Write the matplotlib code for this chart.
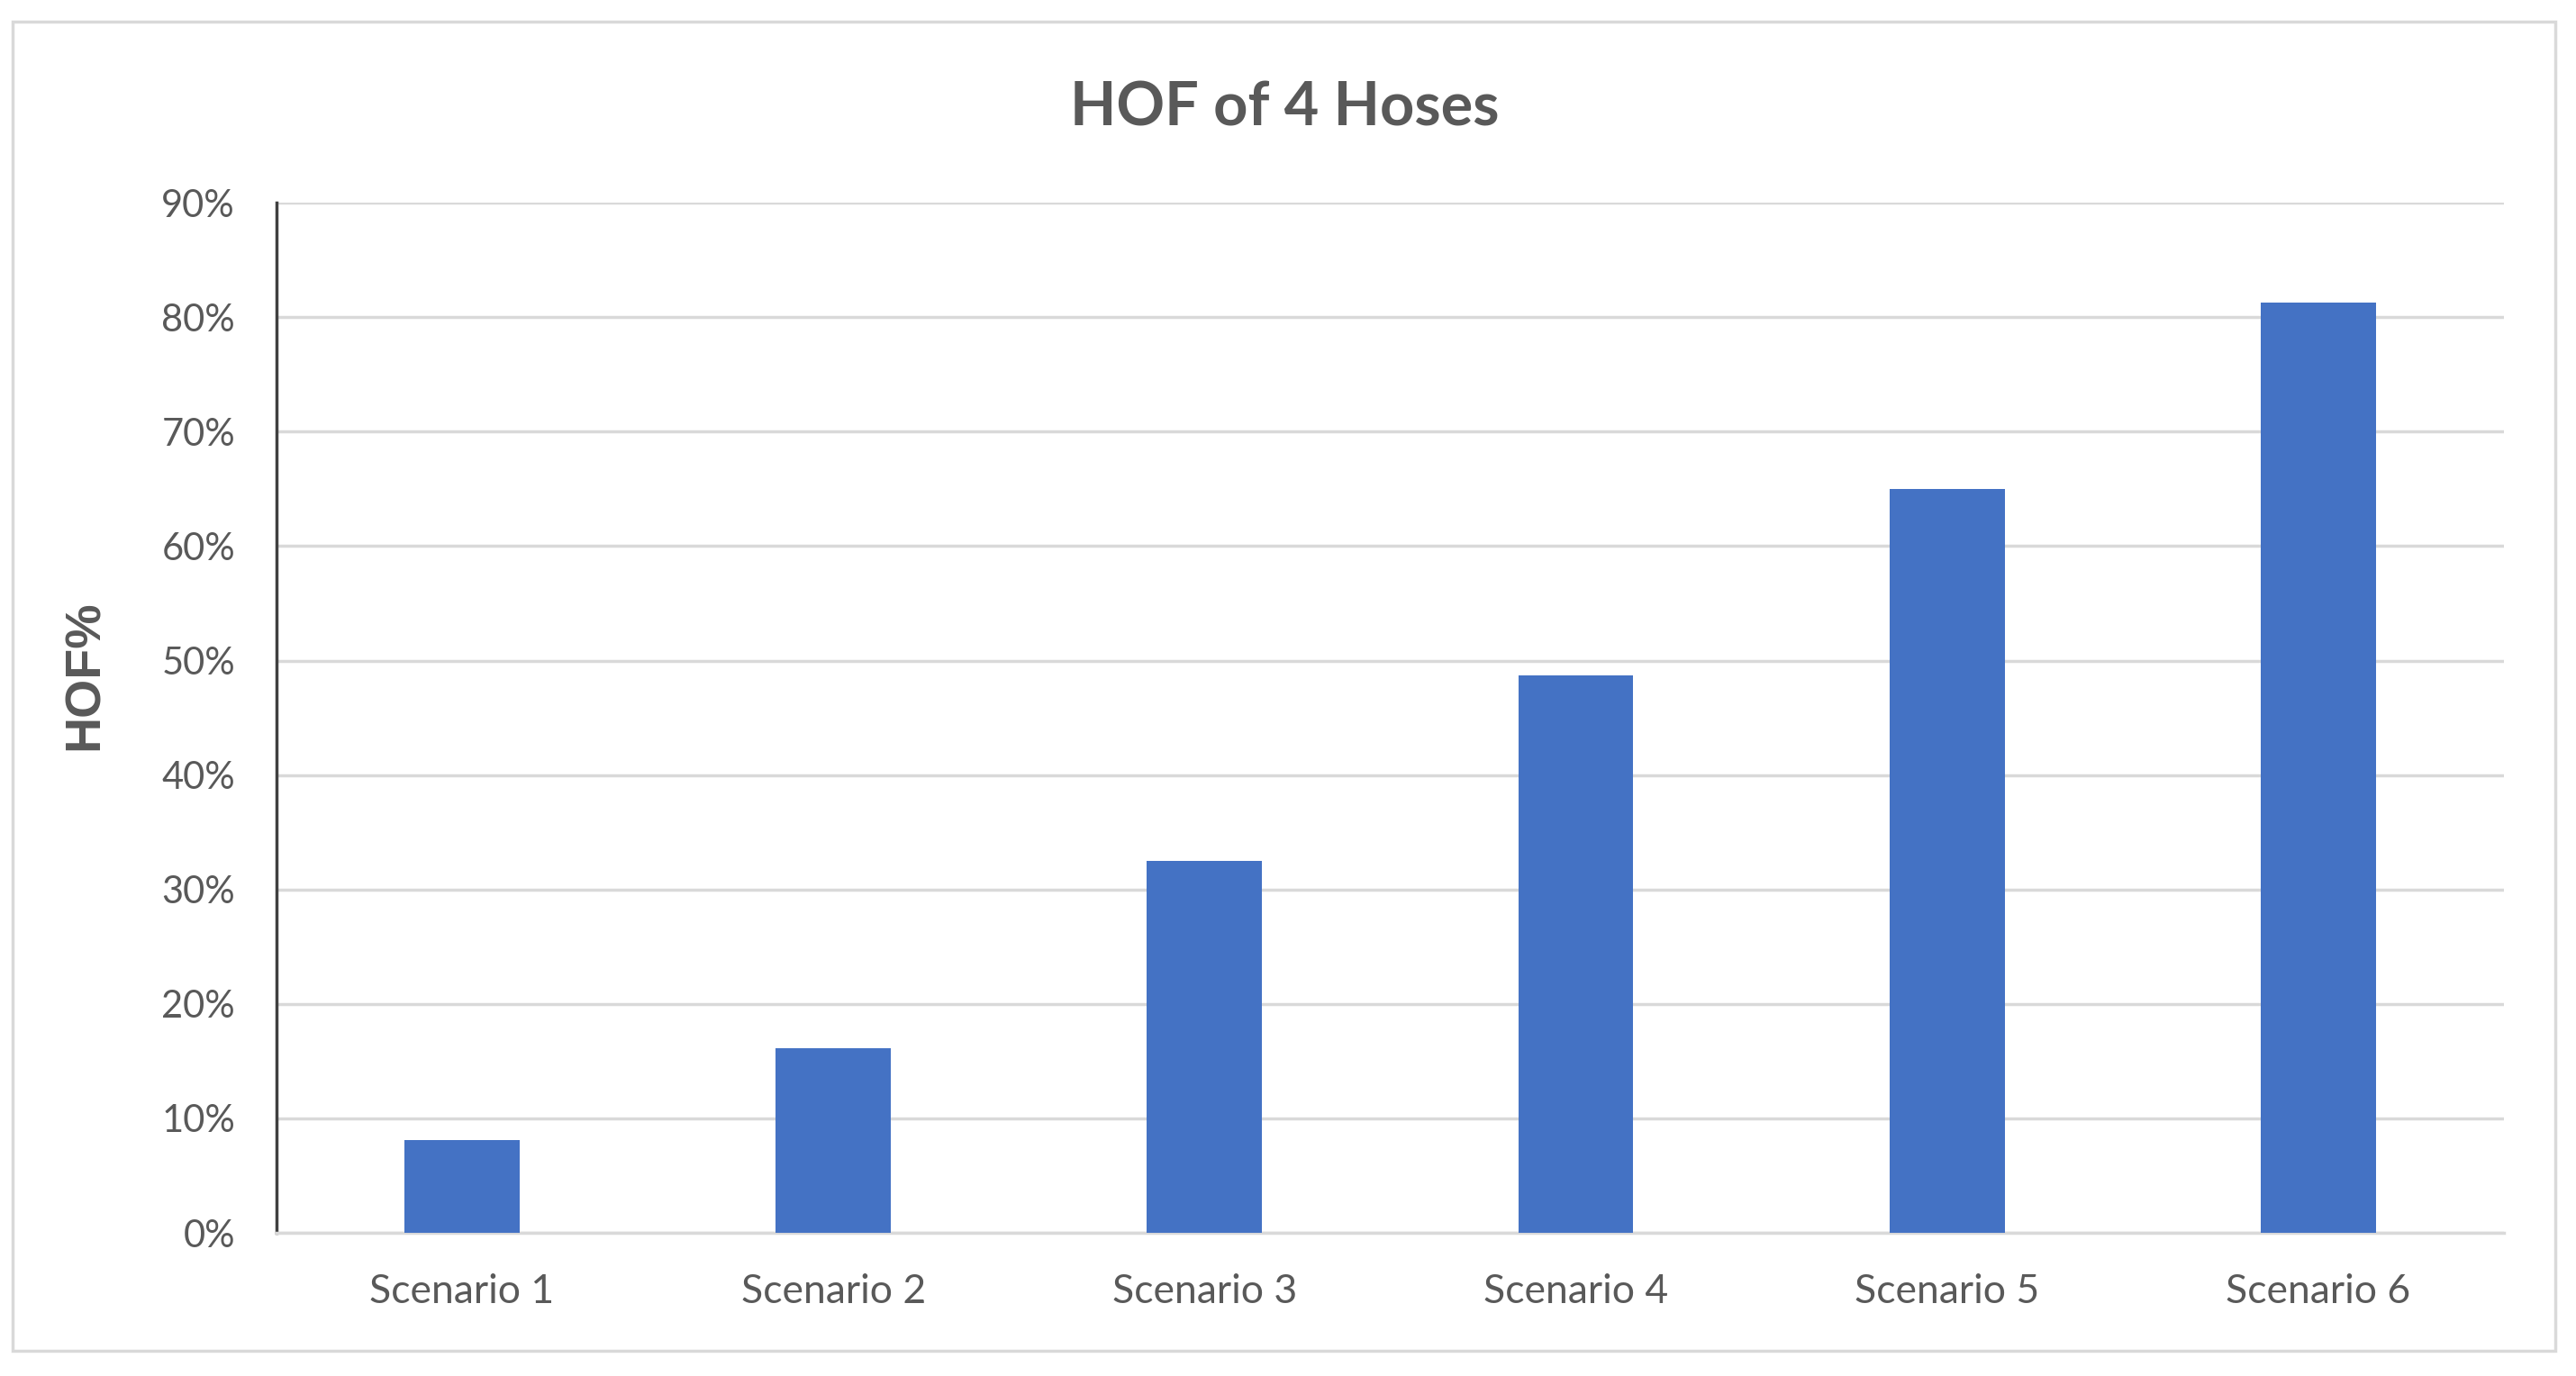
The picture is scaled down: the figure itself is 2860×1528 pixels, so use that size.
import matplotlib
matplotlib.use("Agg")
import matplotlib.pyplot as plt
from matplotlib.patches import Rectangle
from matplotlib.ticker import FuncFormatter

# data
scenarios = ["Scenario 1", "Scenario 2", "Scenario 3", "Scenario 4", "Scenario 5", "Scenario 6"]
hof = [8.1, 16.1, 32.5, 48.7, 65.0, 81.3]
yticks = [0, 10, 20, 30, 40, 50, 60, 70, 80, 90]

text_col = "#595959"
bar_col = "#4472C4"
grid_col = "#D9D9D9"

plt.rcParams["font.family"] = ["Lato", "DejaVu Sans"]

fig = plt.figure(figsize=(28.6, 15.28), dpi=100)
fig.patch.set_facecolor("white")

# light frame around the chart area
fig.add_artist(Rectangle((0.005, 0.018), 0.987, 0.966, transform=fig.transFigure,
                         fill=False, edgecolor="#D9D9D9", linewidth=2.5))

ax = fig.add_axes([0.1073, 0.104, 0.8647, 0.7487])
x = range(len(scenarios))
ax.bar(x, hof, width=0.31, color=bar_col, zorder=3)

ax.set_xlim(-0.5, len(scenarios) - 0.5)
ax.set_ylim(0, 90)
ax.set_yticks(yticks)
ax.yaxis.set_major_formatter(FuncFormatter(lambda v, p: f"{int(v)}%"))
ax.set_xticks(list(x))
ax.set_xticklabels(scenarios)

ax.grid(axis="y", color=grid_col, linewidth=2.5, zorder=0)
ax.set_axisbelow(True)
for s in ["top", "right"]:
    ax.spines[s].set_visible(False)
ax.spines["bottom"].set_color(grid_col)
ax.spines["bottom"].set_linewidth(2.5)
ax.spines["left"].set_color("#404040")
ax.spines["left"].set_linewidth(2.5)

ax.tick_params(axis="both", length=0, labelcolor=text_col)
ax.tick_params(axis="y", pad=33, labelsize=30)
ax.tick_params(axis="x", pad=32, labelsize=32)

fig.text(95 / 2860, 1 - 750 / 1528, "HOF%", rotation=90, ha="center", va="center",
         fontsize=40, fontweight="bold", color=text_col,
         family=["Liberation Sans", "DejaVu Sans"])
fig.text(0.4986, 0.921, "HOF of 4 Hoses", ha="center", va="center",
         fontsize=48, fontweight="bold", color=text_col)

fig.savefig("out.png", dpi=100)
